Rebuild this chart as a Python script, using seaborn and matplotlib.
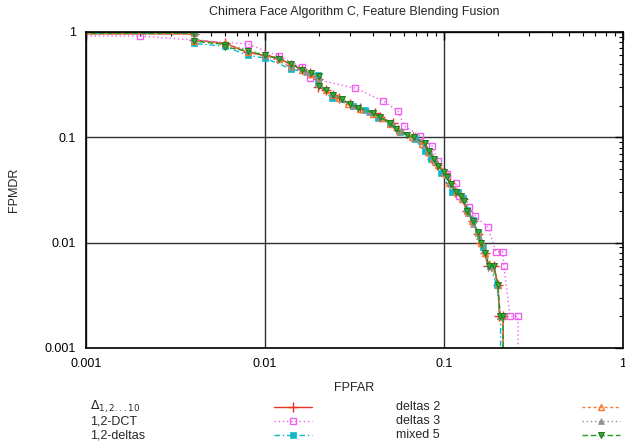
import matplotlib
matplotlib.use("Agg")
import matplotlib.pyplot as plt
import seaborn as sns
from matplotlib.lines import Line2D
from matplotlib.ticker import FixedLocator, FixedFormatter, LogLocator, NullFormatter

# FPFAR / FPMDR curves
delta_x = [0.0005, 0.004, 0.004, 0.006, 0.008, 0.010, 0.0118, 0.014, 0.016, 0.0178,
           0.0198, 0.0198, 0.022, 0.024, 0.026, 0.030, 0.034, 0.041, 0.044, 0.052,
           0.055, 0.067, 0.076, 0.080, 0.086, 0.091, 0.101, 0.108, 0.115, 0.128,
           0.134, 0.145, 0.155, 0.159, 0.169, 0.176, 0.190, 0.200, 0.204, 0.214, 0.214]
delta_y = [0.96, 0.96, 0.84, 0.78, 0.64, 0.60, 0.57, 0.49, 0.445, 0.405,
           0.36, 0.30, 0.28, 0.25, 0.235, 0.205, 0.19, 0.17, 0.155, 0.137,
           0.118, 0.10, 0.088, 0.074, 0.062, 0.055, 0.046, 0.037, 0.030, 0.026,
           0.020, 0.016, 0.012, 0.010, 0.008, 0.006, 0.006, 0.004, 0.002, 0.002, 0.0001]

dct_x = [0.0005, 0.002, 0.008, 0.012, 0.016, 0.0178, 0.032, 0.0456, 0.0553, 0.060,
         0.0734, 0.0857, 0.0926, 0.104, 0.116, 0.121, 0.138, 0.149, 0.176, 0.195,
         0.213, 0.216, 0.234, 0.259, 0.259]
dct_y = [0.915, 0.915, 0.77, 0.59, 0.465, 0.366, 0.293, 0.221, 0.178, 0.128,
         0.103, 0.083, 0.059, 0.045, 0.037, 0.028, 0.022, 0.018, 0.014, 0.0082,
         0.0082, 0.006, 0.002, 0.002, 0.0001]

deltas12_x = [0.0005, 0.004, 0.004, 0.006, 0.008, 0.010, 0.014, 0.0198, 0.0198, 0.0236,
              0.031, 0.036, 0.043, 0.050, 0.057, 0.069, 0.078, 0.085, 0.096, 0.111,
              0.120, 0.128, 0.134, 0.145, 0.155, 0.165, 0.180, 0.197, 0.207, 0.207]
deltas12_y = [0.97, 0.97, 0.78, 0.73, 0.60, 0.565, 0.445, 0.39, 0.33, 0.236,
              0.198, 0.18, 0.153, 0.135, 0.112, 0.096, 0.074, 0.062, 0.046, 0.0303,
              0.030, 0.0265, 0.0204, 0.0164, 0.0123, 0.009, 0.006, 0.004, 0.002, 0.0001]

deltas2_x = [0.0005, 0.004, 0.004, 0.006, 0.008, 0.010, 0.012, 0.014, 0.016, 0.018,
             0.020, 0.022, 0.024, 0.026, 0.029, 0.034, 0.040, 0.045, 0.050, 0.056,
             0.066, 0.075, 0.081, 0.087, 0.092, 0.100, 0.107, 0.116, 0.126, 0.134,
             0.144, 0.154, 0.160, 0.170, 0.186, 0.200, 0.205, 0.214, 0.214]
deltas2_y = [0.97, 0.97, 0.82, 0.78, 0.64, 0.60, 0.56, 0.48, 0.44, 0.40,
             0.33, 0.28, 0.255, 0.235, 0.205, 0.185, 0.165, 0.152, 0.135, 0.115,
             0.10, 0.086, 0.072, 0.062, 0.055, 0.046, 0.037, 0.030, 0.026, 0.020,
             0.016, 0.0125, 0.010, 0.008, 0.006, 0.004, 0.002, 0.002, 0.0001]

deltas3_x = [0.0005, 0.004, 0.004, 0.006, 0.008, 0.010, 0.014, 0.017, 0.020, 0.020,
             0.024, 0.027, 0.031, 0.038, 0.044, 0.052, 0.058, 0.068, 0.077, 0.083,
             0.090, 0.100, 0.110, 0.120, 0.130, 0.136, 0.146, 0.156, 0.168, 0.182,
             0.200, 0.206, 0.212, 0.212]
deltas3_y = [0.97, 0.97, 0.86, 0.77, 0.68, 0.60, 0.47, 0.42, 0.37, 0.32,
             0.26, 0.23, 0.20, 0.175, 0.155, 0.135, 0.115, 0.098, 0.084, 0.072,
             0.058, 0.047, 0.036, 0.030, 0.026, 0.019, 0.015, 0.0115, 0.0085, 0.006,
             0.004, 0.002, 0.002, 0.0001]

mixed5_x = [0.0005, 0.004, 0.004, 0.006, 0.006, 0.008, 0.010, 0.012, 0.014, 0.016,
            0.018, 0.020, 0.020, 0.022, 0.024, 0.027, 0.030, 0.033, 0.040, 0.044,
            0.050, 0.054, 0.062, 0.068, 0.078, 0.082, 0.088, 0.093, 0.100, 0.104,
            0.110, 0.116, 0.124, 0.130, 0.135, 0.146, 0.155, 0.160, 0.170, 0.178,
            0.190, 0.200, 0.206, 0.214, 0.214]
mixed5_y = [0.97, 0.97, 0.82, 0.76, 0.72, 0.66, 0.60, 0.56, 0.50, 0.44,
            0.41, 0.38, 0.31, 0.28, 0.255, 0.23, 0.205, 0.19, 0.172, 0.155,
            0.137, 0.12, 0.105, 0.10, 0.088, 0.074, 0.062, 0.054, 0.047, 0.042,
            0.036, 0.030, 0.028, 0.025, 0.020, 0.016, 0.0125, 0.010, 0.008, 0.006,
            0.006, 0.004, 0.002, 0.002, 0.0001]

labels = [r"$\Delta_{1,2...10}$", "1,2-DCT", "1,2-deltas", "deltas 2", "deltas 3", "mixed 5"]
series = [(delta_x, delta_y), (dct_x, dct_y), (deltas12_x, deltas12_y),
          (deltas2_x, deltas2_y), (deltas3_x, deltas3_y), (mixed5_x, mixed5_y)]

# line style per series (gnuplot-ish look)
styles = [
    dict(color="#ee3322", ls="-", marker="+", ms=7, mfc="#ee3322", mec="#ee3322", mew=1.0),
    dict(color="#f060f0", ls=(0, (1, 2)), marker="s", ms=5, mfc="none", mec="#f060f0", mew=1.0),
    dict(color="#10b8c8", ls=(0, (4, 2, 1, 2)), marker="s", ms=5, mfc="#10b8c8", mec="#10b8c8", mew=0.5),
    dict(color="#ff7722", ls=(0, (2, 2)), marker="^", ms=5, mfc="none", mec="#ff7722", mew=1.0),
    dict(color="#909090", ls=(0, (1, 2)), marker="^", ms=5, mfc="#909090", mec="#909090", mew=0.5),
    dict(color="#229922", ls=(0, (4, 2)), marker="v", ms=5, mfc="#33aa33", mec="#227722", mew=0.7),
]

sns.set_style("white")
plt.rcParams["font.family"] = ["Liberation Sans", "DejaVu Sans"]
plt.rcParams["mathtext.fontset"] = "dejavusans"

W, H = 625, 445
fig = plt.figure(figsize=(W / 100, H / 100), dpi=100)
ax = fig.add_axes([86 / W, 1 - 348 / H, 537 / W, 316 / H])

for (xs, ys), st in zip(series, styles):
    sns.lineplot(x=xs, y=ys, sort=False, estimator=None, ax=ax, lw=1.0, **st)

ax.set_xscale("log")
ax.set_yscale("log")
ax.set_xlim(0.001, 1)
ax.set_ylim(0.001, 1)

decades = [0.001, 0.01, 0.1, 1]
dec_labels = ["0.001", "0.01", "0.1", "1"]
for axis in (ax.xaxis, ax.yaxis):
    axis.set_major_locator(FixedLocator(decades))
    axis.set_major_formatter(FixedFormatter(dec_labels))
    axis.set_minor_locator(LogLocator(base=10, subs=range(2, 10)))
    axis.set_minor_formatter(NullFormatter())

ax.tick_params(which="both", direction="in", top=True, right=True, colors="black",
               labelsize=9, pad=7)
ax.tick_params(which="major", length=6, width=1)
ax.tick_params(which="minor", length=3, width=0.8)
ax.grid(True, which="major", color="#303030", lw=1.0)
for sp in ax.spines.values():
    sp.set_color("black")
    sp.set_linewidth(1.2)

ax.set_xlabel("FPFAR", fontsize=9, labelpad=9)
ax.set_ylabel("FPMDR", fontsize=9, labelpad=18)
ax.set_title("Chimera Face Algorithm C, Feature Blending Fusion", fontsize=9, pad=12)

# gnuplot-style key below the plot: label then sample
text_x = [90, 396]
sample_x = [(274, 312), (582, 620)]
row_y = [407, 421, 435]
for i, (lab, st) in enumerate(zip(labels, styles)):
    col, row = divmod(i, 3)
    y = 1 - row_y[row] / H
    fig.text(text_x[col] / W, y, lab, fontsize=9, va="center", ha="left")
    x0, x1 = sample_x[col]
    fig.add_artist(Line2D([x0 / W, x1 / W], [y, y], transform=fig.transFigure,
                          color=st["color"], ls=st["ls"], lw=1.0))
    fig.add_artist(Line2D([(x0 + x1) / 2 / W], [y], transform=fig.transFigure,
                          ls="none", marker=st["marker"], ms=st["ms"], mfc=st["mfc"],
                          mec=st["mec"], mew=st["mew"]))

fig.savefig("out.png", dpi=100)
